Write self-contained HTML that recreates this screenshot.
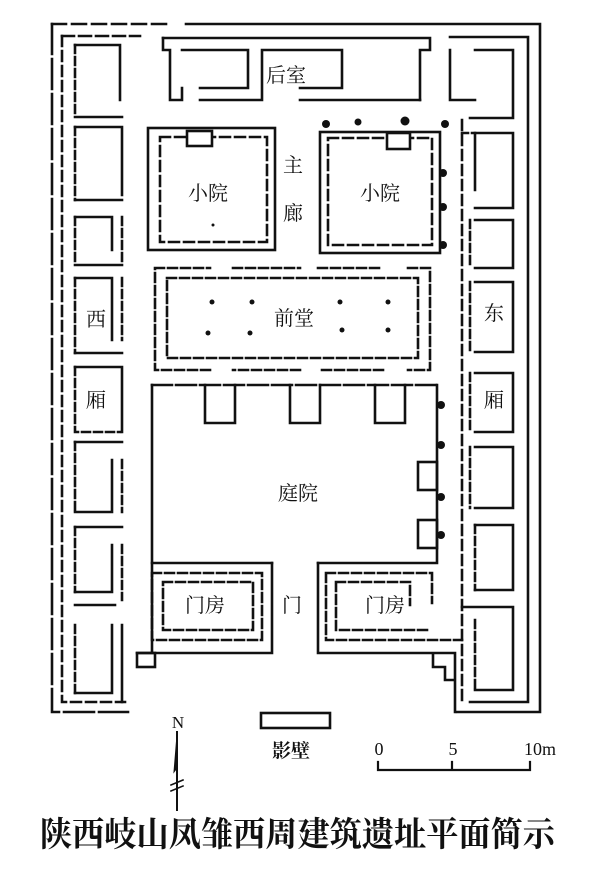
<!DOCTYPE html>
<html><head><meta charset="utf-8"><style>
html,body{margin:0;padding:0;background:#fff;}
svg{display:block}
text{font-family:"Liberation Serif","Noto Serif CJK SC","Noto Sans CJK SC",serif;fill:#111;}
</style></head><body>
<svg width="600" height="880" viewBox="0 0 600 880" xmlns="http://www.w3.org/2000/svg">
<g fill="none" stroke="#111" stroke-width="2.6" stroke-linecap="square">
<path d="M52,24 H172" stroke-dasharray="14 6"/>
<path d="M186,24 H540 V712 H457"/>
<path d="M52,24 V712 H128" stroke-dasharray="30 5"/>
<path d="M62,36 H140" stroke-dasharray="12 5"/>
<path d="M62,36 V702 H125" stroke-dasharray="10 5"/>
<path d="M450,37 H528 V702 H470"/>
<path d="M163,38 H430 V50 H420 V100"/>
<path d="M163,38 V50 H170 V100 H182 V88"/>
<path d="M182,50 H248 V88 H200"/>
<path d="M200,100 H262 V50 H342 V88 H300"/>
<path d="M300,100 H420"/>
<g>
<path d="M75,45 H120 M120,45 V100 M75,117 H122" /><path d="M75,45 V117" stroke-dasharray="8 4"/>
<path d="M75,127 H122 V195 M75,200 H122"/><path d="M75,127 V200" stroke-dasharray="8 4"/>
<path d="M75,217 H112 V250 M75,265 H122"/><path d="M75,217 V265 M122,217 V265" stroke-dasharray="8 4"/>
<path d="M75,278 H112 V340 M75,353 H122"/><path d="M75,278 V353 M122,278 V340" stroke-dasharray="8 4"/>
<path d="M75,367 H122 V432"/><path d="M75,367 V432 H120" stroke-dasharray="8 4"/>
<path d="M75,442 H122 M112,460 V512 H75"/><path d="M75,442 V512 M122,460 V512" stroke-dasharray="8 4"/>
<path d="M75,527 H122 M112,545 V592 H75"/><path d="M75,527 V592 M122,545 V600" stroke-dasharray="8 4"/>
<path d="M75,605 H115 M112,625 V693 H75 M122,625 V702"/><path d="M75,625 V693" stroke-dasharray="8 4"/>
</g>
<path d="M462,120 V700" stroke-dasharray="10 5"/>
<g>
<path d="M450,50 V100 H475 M475,50 H513 V118 H470"/>
<path d="M475,133 H513 V208 H475 M475,133 V190"/><path d="M462,133 H475" stroke-dasharray="6 4"/>
<path d="M475,220 H513 V268 H475"/><path d="M470,220 V265" stroke-dasharray="8 4"/>
<path d="M475,282 H513 V352 H475"/><path d="M470,282 V352" stroke-dasharray="8 4"/>
<path d="M475,373 H513 V432 H475"/><path d="M470,373 V432" stroke-dasharray="8 4"/>
<path d="M475,447 H513 V508 H475"/><path d="M470,447 V508" stroke-dasharray="8 4"/>
<path d="M475,525 H513 V590 H475"/><path d="M475,525 V590" stroke-dasharray="8 4"/>
<path d="M462,607 H513 V690 H475"/><path d="M475,620 V690" stroke-dasharray="8 4"/>
</g>
<rect x="148" y="128" width="127" height="122"/>
<rect x="160" y="137" width="107" height="105" stroke-dasharray="10 5"/>
<rect x="187" y="131" width="25" height="15" fill="#fff"/>
<rect x="320" y="132" width="120" height="121"/>
<rect x="328" y="138" width="104" height="107" stroke-dasharray="10 5"/>
<rect x="387" y="133" width="23" height="16" fill="#fff"/>
<path d="M155,268 H210 M233,268 H300 M318,268 H383 M408,268 H430 V370 H408 M383,370 H318 M300,370 H233 M210,370 H155 V268" stroke-dasharray="9 4"/>
<rect x="167" y="278" width="251" height="80" stroke-dasharray="9 4"/>
<path d="M152,385 V563 H272 M318,563 H437 V385"/>
<path d="M152,385 H437" stroke-dasharray="20 4"/>
<path d="M205,385 V423 H235 V385 M290,385 V423 H320 V385 M375,385 V423 H405 V385"/>
<rect x="418" y="462" width="19" height="28"/>
<rect x="418" y="520" width="19" height="28"/>
<path d="M272,563 V653 H137 M152,563 V653"/>
<rect x="137" y="653" width="18" height="14"/>
<rect x="152" y="573" width="110" height="67" stroke-dasharray="9 4"/>
<rect x="163" y="582" width="90" height="48" stroke-dasharray="9 4"/>
<path d="M318,563 V653 H455 V712 M433,653 V667 H445 V680 H455"/>
<path d="M326,573 H432 V603 M326,573 V640 H462" stroke-dasharray="9 4"/>
<path d="M336,582 H410 V605 M336,582 V630 H430" stroke-dasharray="9 4"/>
<rect x="261" y="713" width="69" height="15"/>
<path d="M378,762 V770 H530 V762 M452,762 V770" stroke-width="2.2"/>
<path d="M177,732 V810" stroke-width="2"/>
<path d="M177,735 L174,772 L177,768 Z" fill="#111" stroke-width="1"/>
<path d="M171,785 L183,780 M171,791 L183,786" stroke-width="1.6"/>
</g>
<g fill="#111">
<circle cx="212" cy="302" r="2.5"/><circle cx="252" cy="302" r="2.5"/><circle cx="340" cy="302" r="2.5"/><circle cx="388" cy="302" r="2.5"/>
<circle cx="208" cy="333" r="2.5"/><circle cx="250" cy="333" r="2.5"/><circle cx="342" cy="330" r="2.5"/><circle cx="388" cy="330" r="2.5"/>
<circle cx="213" cy="225" r="1.5"/>
<circle cx="326" cy="124" r="4"/><circle cx="358" cy="122" r="3.5"/><circle cx="405" cy="121" r="4.5"/><circle cx="445" cy="124" r="4"/>
<circle cx="443" cy="173" r="4"/><circle cx="443" cy="207" r="4"/><circle cx="443" cy="245" r="4"/>
<circle cx="441" cy="405" r="4"/><circle cx="441" cy="445" r="4"/><circle cx="441" cy="497" r="4"/><circle cx="441" cy="535" r="4"/>
</g>
<g font-size="20" text-anchor="middle">
<text x="286" y="82">后室</text>
<text x="208" y="200">小院</text>
<text x="380" y="200">小院</text>
<text x="293" y="172">主</text>
<text x="293" y="220">廊</text>
<text x="294" y="325">前堂</text>
<text x="96" y="326">西</text>
<text x="96" y="407">厢</text>
<text x="494" y="320">东</text>
<text x="494" y="407">厢</text>
<text x="298" y="500">庭院</text>
<text x="205" y="612">门房</text>
<text x="385" y="612">门房</text>
<text x="292" y="612">门</text>
<text x="291" y="757" font-weight="bold" font-size="19">影壁</text>
<text x="178" y="728" font-size="17">N</text>
<text x="379" y="755" font-size="18">0</text>
<text x="453" y="755" font-size="18">5</text>
<text x="540" y="755" font-size="18">10m</text>
</g>
<text x="40" y="846" font-size="34" font-weight="bold" textLength="515" lengthAdjust="spacingAndGlyphs" style="font-family:'Noto Serif CJK SC','Noto Sans CJK SC',serif">陕西岐山凤雏西周建筑遗址平面简示</text>
</svg>
</body></html>
